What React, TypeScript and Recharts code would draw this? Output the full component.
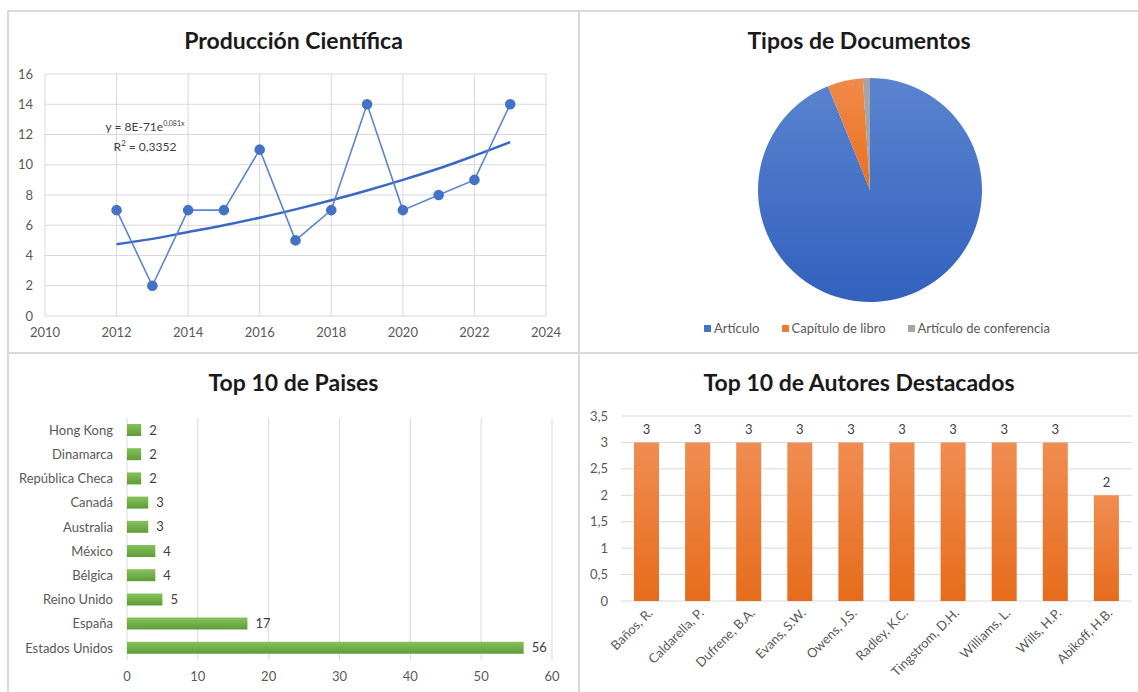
import React from 'react';
import {
  LineChart,
  Line,
  XAxis,
  YAxis,
  CartesianGrid,
  PieChart,
  Pie,
  Cell,
  Legend,
  BarChart,
  Bar,
  LabelList,
} from 'recharts';

// Producción Científica
const years = [2012, 2013, 2014, 2015, 2016, 2017, 2018, 2019, 2020, 2021, 2022, 2023];
const publications = [7, 2, 7, 7, 11, 5, 7, 14, 7, 8, 9, 14];
// trend line
const trendValues = [4.75, 5.1, 5.55, 6.0, 6.5, 7.05, 7.65, 8.3, 9.0, 9.75, 10.6, 11.5];
const yearTicks = [2010, 2012, 2014, 2016, 2018, 2020, 2022, 2024];
const countTicks = [0, 2, 4, 6, 8, 10, 12, 14, 16];

// Tipos de Documentos
const docTypes = ['Artículo', 'Capítulo de libro', 'Artículo de conferencia'];
const docCounts = [92, 5, 1];
const docColors = ['url(#pieBlue)', 'url(#pieOrange)', '#a5a5a5'];
const docLegendColors = ['#4472c4', '#ed7d31', '#a5a5a5'];

// Top 10 de Paises
const countries = [
  'Hong Kong',
  'Dinamarca',
  'República Checa',
  'Canadá',
  'Australia',
  'México',
  'Bélgica',
  'Reino Unido',
  'España',
  'Estados Unidos',
];
const countryCounts = [2, 2, 2, 3, 3, 4, 4, 5, 17, 56];
const countryTicks = [0, 10, 20, 30, 40, 50, 60];

// Top 10 de Autores Destacados
const authors = [
  'Baños, R.',
  'Caldarella, P.',
  'Dufrene, B.A.',
  'Evans, S.W.',
  'Owens, J.S.',
  'Radley, K.C.',
  'Tingstrom, D.H.',
  'Williams, L.',
  'Wills, H.P.',
  'Abikoff, H.B.',
];
const authorCounts = [3, 3, 3, 3, 3, 3, 3, 3, 3, 2];
const authorTicks = [0, 0.5, 1, 1.5, 2, 2.5, 3, 3.5];

const FONT = 'Lato, "Open Sans", sans-serif';
const GRID = '#d9d9d9';
const TICK = { fill: '#595959', fontSize: 13, fontFamily: FONT };

const productionData = years.map((year, i) => ({
  year,
  count: publications[i],
  trend: trendValues[i],
}));
const docData = docTypes.map((name, i) => ({ name, value: docCounts[i] }));
const countryData = countries.map((country, i) => ({ country, value: countryCounts[i] }));
const authorData = authors.map((author, i) => ({ author, value: authorCounts[i] }));

const comma = (v: number) => String(v).replace('.', ',');

const Title = ({ text, left, top, width }: { text: string; left: number; top: number; width: number }) => (
  <div
    style={{
      position: 'absolute',
      left,
      top,
      width,
      textAlign: 'center',
      fontFamily: FONT,
      fontWeight: 700,
      fontSize: 23,
      lineHeight: '28px',
      color: '#1a1a1a',
    }}
  >
    {text}
  </div>
);

const AuthorTick = (props: any) => {
  const { x, y, payload } = props;
  return (
    <g transform={`translate(${x + 4},${y})`}>
      <text x={0} y={0} dy={4} textAnchor="end" transform="rotate(-45)" fill="#595959" fontSize={13} fontFamily={FONT}>
        {payload.value}
      </text>
    </g>
  );
};

const DocLegend = () => (
  <div style={{ display: 'flex', justifyContent: 'center', gap: 22, fontFamily: FONT, fontSize: 13, color: '#595959' }}>
    {docTypes.map((name, i) => (
      <span key={name} style={{ display: 'flex', alignItems: 'center' }}>
        <span style={{ width: 7, height: 7, background: docLegendColors[i], marginRight: 3, display: 'inline-block' }} />
        {name}
      </span>
    ))}
  </div>
);

const line = (style: React.CSSProperties) => (
  <div style={{ position: 'absolute', background: GRID, ...style }} />
);

export default function App() {
  return (
    <div style={{ position: 'absolute', left: 0, top: 0, width: 1138, height: 692, background: '#fff', overflow: 'hidden' }}>
      {/* panel borders */}
      {line({ left: 7, top: 10, width: 1131, height: 2 })}
      {line({ left: 7, top: 10, width: 2, height: 682 })}
      {line({ left: 578, top: 10, width: 2, height: 682 })}
      {line({ left: 7, top: 352, width: 1131, height: 2 })}

      {/* Producción Científica */}
      <Title text="Producción Científica" left={8} top={26} width={571} />
      <div style={{ position: 'absolute', left: 8, top: 10 }}>
        <LineChart width={570} height={340} data={productionData} margin={{ top: 64, right: 32, bottom: 10, left: 0 }}>
          <CartesianGrid stroke={GRID} />
          <XAxis
            dataKey="year"
            type="number"
            domain={[2010, 2024]}
            ticks={yearTicks}
            axisLine={false}
            tickLine={false}
            tickMargin={6}
            height={24}
            tick={TICK}
          />
          <YAxis
            type="number"
            domain={[0, 16]}
            ticks={countTicks}
            axisLine={false}
            tickLine={false}
            tickMargin={6}
            width={37}
            tick={TICK}
          />
          <Line
            dataKey="trend"
            type="monotone"
            stroke="#3a68c4"
            strokeWidth={2.5}
            dot={false}
            isAnimationActive={false}
          />
          <Line
            dataKey="count"
            type="linear"
            stroke="#5a86d2"
            strokeWidth={1.6}
            dot={{ r: 4.5, fill: '#4472c4', stroke: '#4472c4' }}
            isAnimationActive={false}
          />
        </LineChart>
      </div>
      <div
        style={{
          position: 'absolute',
          left: 82,
          top: 115,
          width: 126,
          textAlign: 'center',
          fontFamily: FONT,
          fontSize: 12,
          lineHeight: '17px',
          color: '#404040',
        }}
      >
        <div>
          y = 8E-71e<sup style={{ fontSize: 7 }}>0,081x</sup>
        </div>
        <div>
          R<sup style={{ fontSize: 8 }}>2</sup> = 0,3352
        </div>
      </div>

      {/* Tipos de Documentos */}
      <Title text="Tipos de Documentos" left={580} top={26} width={558} />
      <div style={{ position: 'absolute', left: 580, top: 10 }}>
        <PieChart width={558} height={342}>
          <defs>
            <linearGradient id="pieBlue" x1="0" y1="0" x2="0" y2="1">
              <stop offset="0%" stopColor="#5a84cf" />
              <stop offset="100%" stopColor="#3261be" />
            </linearGradient>
            <linearGradient id="pieOrange" x1="0" y1="0" x2="0" y2="1">
              <stop offset="0%" stopColor="#f08a48" />
              <stop offset="100%" stopColor="#e8701f" />
            </linearGradient>
          </defs>
          <Pie
            data={docData}
            dataKey="value"
            nameKey="name"
            cx={285}
            cy={175}
            outerRadius={112}
            startAngle={90}
            endAngle={-270}
            stroke="none"
            isAnimationActive={false}
          >
            {docData.map((d, i) => (
              <Cell key={d.name} fill={docColors[i]} />
            ))}
          </Pie>
          <Legend content={<DocLegend />} wrapperStyle={{ top: 310, left: 18, width: 558 }} />
        </PieChart>
      </div>

      {/* Top 10 de Paises */}
      <Title text="Top 10 de Paises" left={8} top={368} width={571} />
      <div style={{ position: 'absolute', left: 8, top: 354 }}>
        <BarChart
          width={571}
          height={338}
          data={countryData}
          layout="vertical"
          margin={{ top: 64, right: 27, bottom: 12, left: 0 }}
          barSize={12}
        >
          <defs>
            <linearGradient id="greenBar" x1="0" y1="0" x2="0" y2="1">
              <stop offset="0%" stopColor="#86c25c" />
              <stop offset="100%" stopColor="#5f9c38" />
            </linearGradient>
          </defs>
          <CartesianGrid stroke={GRID} horizontal={false} />
          <XAxis
            type="number"
            domain={[0, 60]}
            ticks={countryTicks}
            axisLine={false}
            tickLine={false}
            tickMargin={6}
            height={20}
            tick={TICK}
          />
          <YAxis
            type="category"
            dataKey="country"
            axisLine={false}
            tickLine={false}
            tickMargin={8}
            width={119}
            interval={0}
            tick={TICK}
          />
          <Bar dataKey="value" fill="url(#greenBar)" isAnimationActive={false}>
            <LabelList dataKey="value" position="right" offset={8} fill="#404040" fontSize={13} fontFamily={FONT} />
          </Bar>
        </BarChart>
      </div>

      {/* Top 10 de Autores Destacados */}
      <Title text="Top 10 de Autores Destacados" left={580} top={368} width={558} />
      <div style={{ position: 'absolute', left: 580, top: 354 }}>
        <BarChart
          width={558}
          height={338}
          data={authorData}
          margin={{ top: 62, right: 6, bottom: 11, left: 0 }}
          barSize={25}
        >
          <defs>
            <linearGradient id="orangeBar" x1="0" y1="0" x2="0" y2="1">
              <stop offset="0%" stopColor="#f08d52" />
              <stop offset="100%" stopColor="#e66c1b" />
            </linearGradient>
          </defs>
          <CartesianGrid stroke={GRID} vertical={false} />
          <XAxis
            dataKey="author"
            axisLine={false}
            tickLine={false}
            tickMargin={4}
            height={80}
            interval={0}
            tick={<AuthorTick />}
          />
          <YAxis
            type="number"
            domain={[0, 3.5]}
            ticks={authorTicks}
            tickFormatter={comma}
            axisLine={false}
            tickLine={false}
            tickMargin={7}
            width={41}
            tick={TICK}
          />
          <Bar dataKey="value" fill="url(#orangeBar)" isAnimationActive={false}>
            <LabelList dataKey="value" position="top" offset={8} fill="#404040" fontSize={13} fontFamily={FONT} />
          </Bar>
        </BarChart>
      </div>
    </div>
  );
}
